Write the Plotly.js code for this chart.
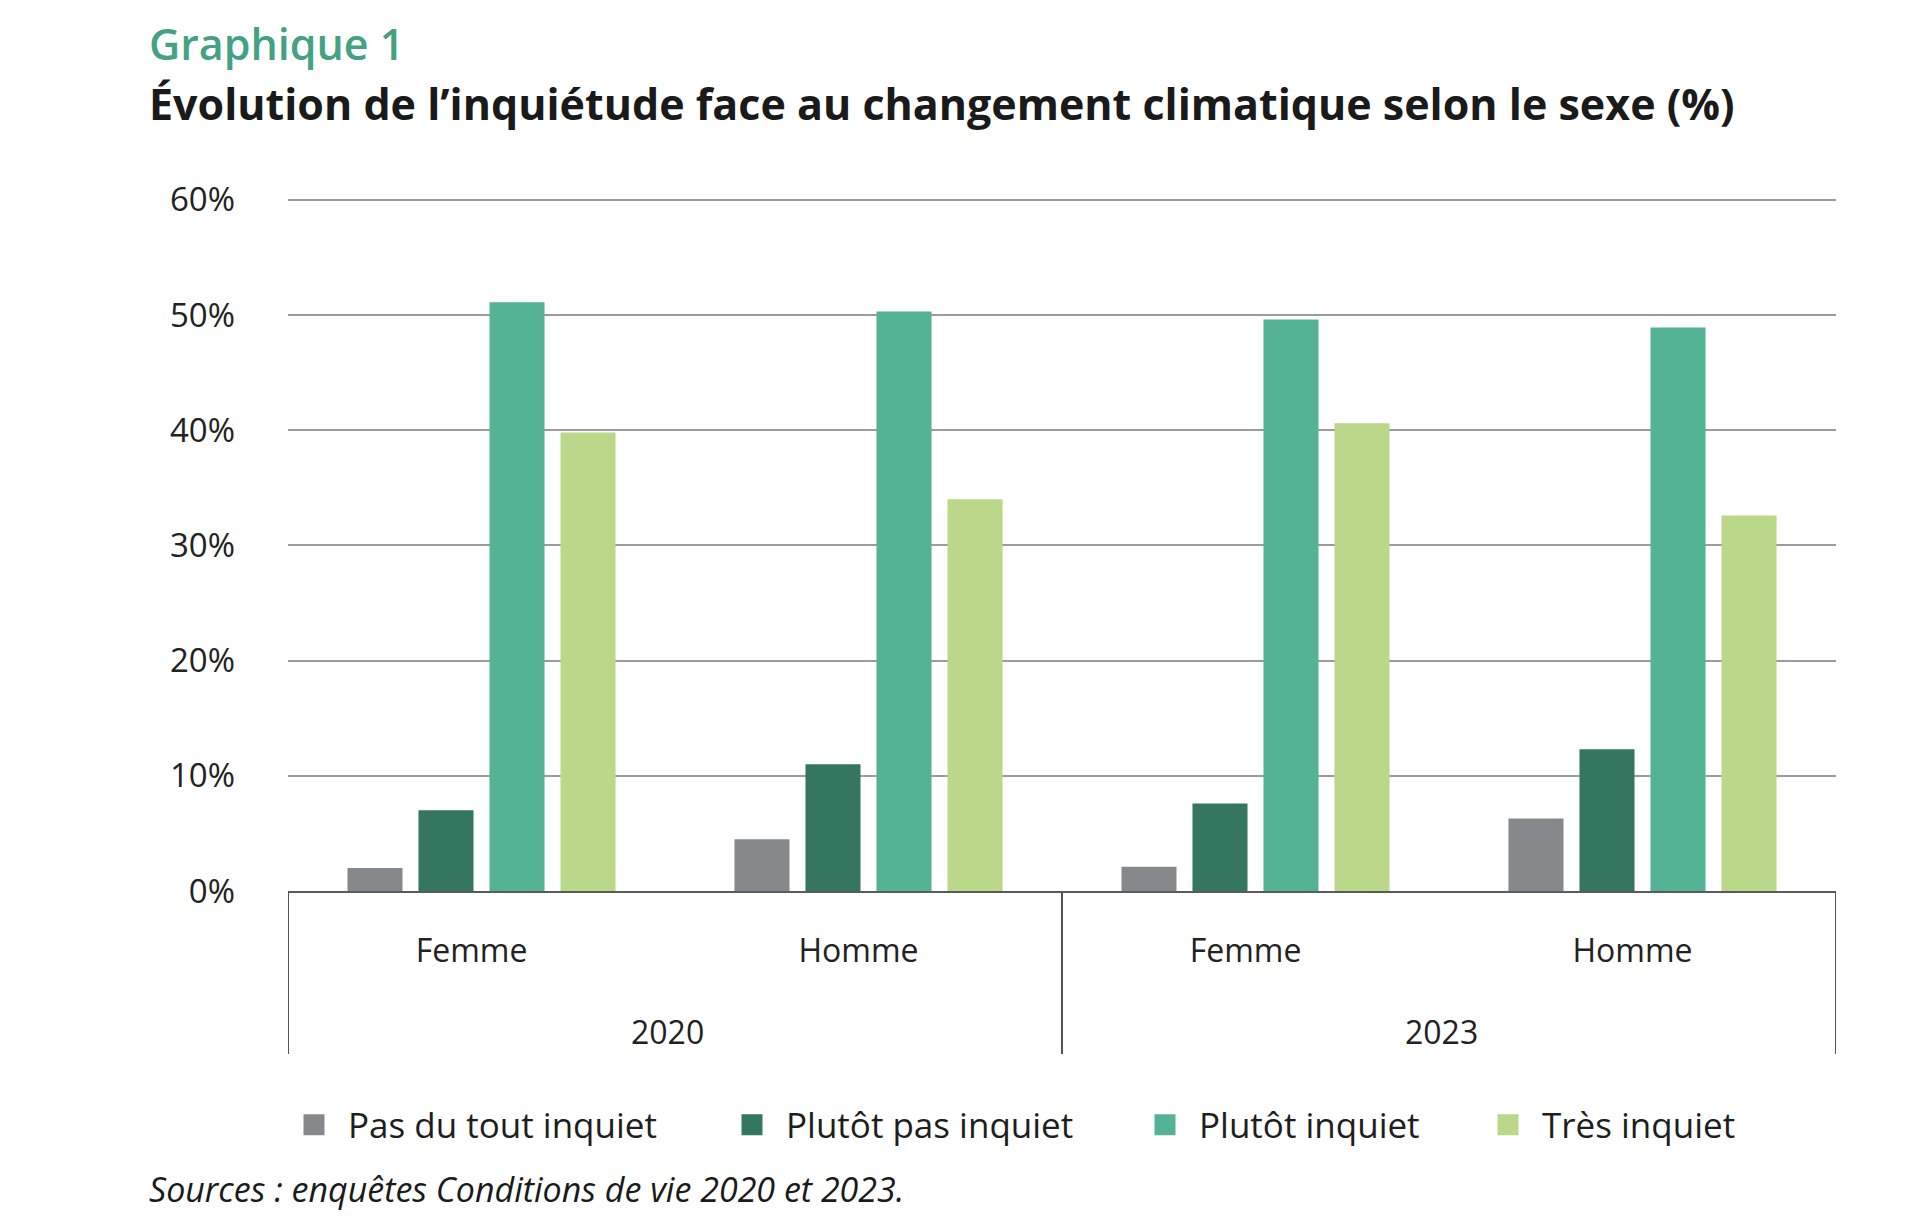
<!DOCTYPE html>
<html>
<head>
<meta charset="utf-8">
<script src="https://cdn.plot.ly/plotly-3.0.1.min.js"></script>
<style>
html,body{margin:0;padding:0;background:#fff;}
#chart{width:1920px;height:1227px;}
</style>
</head>
<body>
<div id="chart"></div>
<script>
// ---- data ----
var years = ['2020', '2020', '2023', '2023'];
var sexes = ['Femme', 'Homme', 'Femme', 'Homme'];
var yearGroups = ['2020', '2023'];
var seriesNames = ['Pas du tout inquiet', 'Plutôt pas inquiet', 'Plutôt inquiet', 'Très inquiet'];
var pasDuTout = [2.0, 4.5, 2.1, 6.3];
var plutotPas = [7.0, 11.0, 7.6, 12.3];
var plutot = [51.1, 50.3, 49.6, 48.9];
var tres = [39.8, 34.0, 40.6, 32.6];
var yTickVals = [0, 10, 20, 30, 40, 50, 60];
var yTickText = ['0%', '10%', '20%', '30%', '40%', '50%', '60%'];
var chartLabel = 'Graphique 1';
var chartTitle = 'Évolution de l’inquiétude face au changement climatique selon le sexe (%)';
var sourceText = 'Sources : enquêtes Conditions de vie 2020 et 2023.';

var colors = ['#86898c', '#34765f', '#53b394', '#bbd78a'];
var values = [pasDuTout, plutotPas, plutot, tres];

var FONT = '"Open Sans", "Noto Sans", sans-serif';
var W = 1920, H = 1227;
var YMAX = 60.15;
var L = 288, R = 1836, B = 891;
var T = B - (B - 200) * YMAX / 60;   // 60% gridline at y=200

// unique category keys built from the year / sex arrays
var xCats = years.map(function (y, i) { return y + ' ' + sexes[i]; });

var traces = [];
values.forEach(function (v, i) {
  traces.push({
    type: 'bar',
    name: seriesNames[i],
    x: xCats,
    y: v,
    marker: {color: colors[i]},
    showlegend: false,
    hoverinfo: 'y+name'
  });
});
var legendCenters = [315, 753, 1166, 1509];
values.forEach(function (v, i) {
  traces.push({
    type: 'scatter',
    mode: 'markers',
    name: seriesNames[i],
    x: [null], y: [null],
    xaxis: 'x2', yaxis: 'y2',
    marker: {symbol: 'square', size: 16, color: colors[i], line: {color: colors[i], width: 5}},
    showlegend: true,
    legend: i === 0 ? 'legend' : 'legend' + (i + 1)
  });
});

function legendDef(i) {
  return {
    xref: 'container', yref: 'container',
    x: (legendCenters[i] - 35) / W, xanchor: 'left',
    y: 1 - 1125 / H, yanchor: 'middle',
    orientation: 'h',
    bgcolor: 'rgba(0,0,0,0)',
    borderwidth: 0,
    itemwidth: 58,
    font: {family: FONT, size: 35, color: '#1e1e1e'}
  };
}

function px2paperX(px) { return (px - L) / (R - L); }
function px2paperY(py) { return (B - py) / (B - T); }

// year labels and dividers positioned on the category scale
var annotations = [
  {xref: 'paper', yref: 'paper', x: px2paperX(147), y: px2paperY(44), xanchor: 'left', yanchor: 'middle',
    text: chartLabel, showarrow: false,
    font: {family: FONT, size: 43, weight: 600, color: '#44a184'}},
  {xref: 'paper', yref: 'paper', x: px2paperX(147), y: px2paperY(104), xanchor: 'left', yanchor: 'middle',
    text: chartTitle, showarrow: false,
    font: {family: FONT, size: 43, weight: 700, color: '#1a1a1a'}},
  {xref: 'paper', yref: 'paper', x: px2paperX(147), y: px2paperY(1189), xanchor: 'left', yanchor: 'middle',
    text: sourceText, showarrow: false,
    font: {family: FONT, size: 34, style: 'italic', color: '#1a1a1a'}}
];
var shapes = [];
var boundaries = [-0.5];
yearGroups.forEach(function (yr) {
  var idx = [];
  years.forEach(function (y, i) { if (y === yr) idx.push(i); });
  var mid = (idx[0] + idx[idx.length - 1]) / 2;
  annotations.push({
    xref: 'x', yref: 'paper', x: mid, y: px2paperY(1031), yanchor: 'middle', xshift: -8,
    text: yr, showarrow: false,
    font: {family: FONT, size: 32, color: '#222222'}
  });
  boundaries.push(idx[idx.length - 1] + 0.5);
});
boundaries.forEach(function (bx) {
  shapes.push({
    type: 'line', xref: 'x', yref: 'paper', x0: bx, x1: bx, y0: 0, y1: px2paperY(1054),
    line: {color: '#555555', width: 2}, layer: 'above'
  });
});

var layout = {
  width: W, height: H,
  paper_bgcolor: '#ffffff', plot_bgcolor: '#ffffff',
  margin: {l: L, r: W - R, t: T, b: H - B, pad: 0},
  font: {family: FONT, color: '#222222'},
  barmode: 'group',
  bargap: 0.266,
  bargroupgap: 0.225,
  xaxis: {
    type: 'category',
    categoryorder: 'array', categoryarray: xCats,
    tickvals: xCats, ticktext: sexes,
    range: [-0.5, xCats.length - 0.5],
    showline: true, linecolor: '#5a5a5a', linewidth: 2,
    showgrid: false, zeroline: false,
    ticks: 'outside', ticklen: 31, tickcolor: 'rgba(0,0,0,0)',
    ticklabelshift: -10,
    tickfont: {family: FONT, size: 32, color: '#222222'},
    fixedrange: true
  },
  yaxis: {
    range: [0, YMAX],
    tickvals: yTickVals, ticktext: yTickText,
    showgrid: true, gridcolor: '#9c9c9c', gridwidth: 2,
    zeroline: false, showline: false,
    ticks: '', ticklabelstandoff: 52,
    tickfont: {family: FONT, size: 33, color: '#222222'},
    fixedrange: true
  },
  xaxis2: {visible: false, overlaying: 'x', range: [0, 1]},
  yaxis2: {visible: false, overlaying: 'y', range: [0, 1]},
  showlegend: true,
  legend: legendDef(0),
  legend2: legendDef(1),
  legend3: legendDef(2),
  legend4: legendDef(3),
  annotations: annotations,
  shapes: shapes
};

Plotly.newPlot('chart', traces, layout, {displayModeBar: false, staticPlot: true});
</script>
</body>
</html>
